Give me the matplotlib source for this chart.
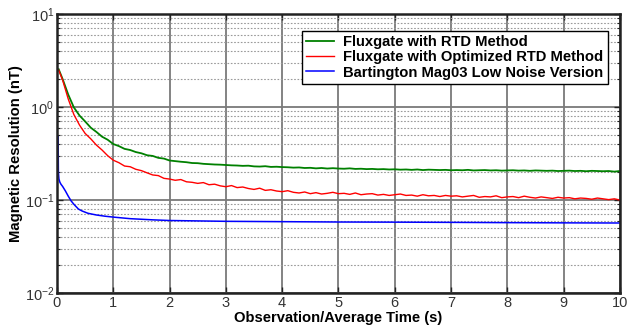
import numpy as np
import matplotlib
matplotlib.use("Agg")
import matplotlib.pyplot as plt
from matplotlib.ticker import LogLocator, FixedLocator, NullFormatter, FuncFormatter

plt.rcParams["font.family"] = ["Liberation Sans", "DejaVu Sans"]
plt.rcParams["mathtext.fontset"] = "custom"
plt.rcParams["mathtext.rm"] = "Liberation Sans"
plt.rcParams["mathtext.default"] = "regular"

# time axis shared by the two fluxgate curves (s)
t_flux = [0.03] + [round(0.1 * k, 1) for k in range(1, 101)]

green = [
    2.55, 2.0, 1.36, 0.99, 0.81, 0.70, 0.60, 0.54, 0.48, 0.445, 0.40,
    0.38, 0.355, 0.345, 0.328, 0.318, 0.303, 0.298, 0.284, 0.279, 0.266,
    0.262, 0.258, 0.255, 0.250, 0.249, 0.245, 0.243, 0.241, 0.240, 0.238,
    0.236, 0.235, 0.233, 0.234, 0.230, 0.229, 0.231, 0.227, 0.228, 0.226,
    0.225, 0.223, 0.224, 0.221, 0.222, 0.219, 0.221, 0.218, 0.220, 0.218,
    0.217, 0.219, 0.216, 0.217, 0.215, 0.216, 0.214, 0.215, 0.213, 0.214,
    0.212, 0.213, 0.211, 0.213, 0.210, 0.212, 0.211, 0.210, 0.211, 0.209,
    0.210, 0.209, 0.211, 0.208, 0.209, 0.210, 0.208, 0.209, 0.207, 0.208,
    0.209, 0.207, 0.208, 0.206, 0.208, 0.207, 0.206, 0.207, 0.205, 0.206,
    0.207, 0.205, 0.206, 0.204, 0.206, 0.205, 0.204, 0.205, 0.202, 0.205,
]

red = [
    2.5, 1.95, 1.22, 0.83, 0.64, 0.52, 0.455, 0.39, 0.345, 0.30, 0.268,
    0.252, 0.232, 0.228, 0.214, 0.207, 0.196, 0.186, 0.183, 0.171, 0.168,
    0.163, 0.166, 0.157, 0.155, 0.151, 0.154, 0.146, 0.148, 0.142, 0.139,
    0.143, 0.136, 0.138, 0.133, 0.130, 0.134, 0.127, 0.129, 0.125, 0.123,
    0.126, 0.121, 0.119, 0.122, 0.117, 0.120, 0.116, 0.118, 0.121, 0.117,
    0.118, 0.115, 0.119, 0.114, 0.116, 0.117, 0.113, 0.115, 0.112, 0.114,
    0.116, 0.112, 0.113, 0.110, 0.114, 0.111, 0.112, 0.109, 0.112, 0.110,
    0.111, 0.108, 0.110, 0.112, 0.107, 0.109, 0.108, 0.111, 0.106, 0.108,
    0.109, 0.106, 0.110, 0.107, 0.105, 0.108, 0.106, 0.104, 0.107, 0.105,
    0.106, 0.103, 0.105, 0.104, 0.102, 0.105, 0.103, 0.101, 0.103, 0.100,
]

t_blue = [0.02, 0.025, 0.035, 0.05, 0.07, 0.1, 0.15, 0.2, 0.25, 0.3, 0.38,
          0.45, 0.55, 0.7, 0.85, 1.0, 1.3, 1.7, 2.0, 2.5, 3.0, 4.0, 5.0,
          6.0, 7.0, 8.0, 9.0, 10.0]
blue = [0.48, 0.2, 0.168, 0.156, 0.148, 0.14, 0.125, 0.11, 0.098, 0.09,
        0.08, 0.076, 0.072, 0.069, 0.067, 0.0655, 0.063, 0.0612, 0.0602,
        0.0596, 0.059, 0.0585, 0.058, 0.0578, 0.0575, 0.0571, 0.0568, 0.0566]

labels = ["Fluxgate with RTD Method",
          "Fluxgate with Optimized RTD Method",
          "Bartington Mag03 Low Noise Version"]

fig = plt.figure(figsize=(6.29, 3.27), dpi=100)
ax = fig.add_axes([0.0906, 0.104, 0.895, 0.853])

ax.plot(t_flux, green, color="#008000", lw=1.3, label=labels[0])
ax.plot(t_flux, red, color="#ff0000", lw=1.0, label=labels[1])
ax.plot(t_blue, blue, color="#0000ff", lw=1.1, label=labels[2])

ax.set_yscale("log")
ax.set_xlim(0, 10)
ax.set_ylim(1e-2, 1e1)
ax.xaxis.set_major_locator(FixedLocator(range(11)))
ax.yaxis.set_major_locator(LogLocator(base=10, numticks=10))
ax.yaxis.set_minor_locator(LogLocator(base=10, subs=np.arange(2, 10), numticks=10))
ax.yaxis.set_minor_formatter(NullFormatter())
ax.yaxis.set_major_formatter(FuncFormatter(lambda v, p: r"$10^{%d}$" % round(np.log10(v))))

ax.grid(True, which="major", axis="both", color="#7a7a7a", lw=1.3, ls="-")
ax.grid(True, which="minor", axis="y", color="#9a9a9a", lw=0.8, ls=(0, (1.5, 1.5)))
ax.set_axisbelow(True)

ax.tick_params(which="both", direction="in", top=True, right=True,
               labelsize=10.5, color="#222222", labelcolor="#333333")
ax.tick_params(which="major", length=4, width=1, pad=2)
ax.tick_params(which="minor", length=2.5, width=0.8)
for s in ax.spines.values():
    s.set_linewidth(1.8)
    s.set_color("#222222")

ax.set_xlabel("Observation/Average Time (s)", fontsize=10.6, fontweight="bold", labelpad=1)
ax.set_ylabel("Magnetic Resolution (nT)", fontsize=10.7, fontweight="bold", labelpad=1)

leg = ax.legend(loc="upper right", bbox_to_anchor=(0.978, 0.94), fancybox=False,
                framealpha=1, edgecolor="black", handlelength=1.9, handletextpad=0.6,
                borderpad=0.3, labelspacing=0.08, borderaxespad=0,
                prop={"weight": "bold", "size": 10.6})
leg.get_frame().set_linewidth(1.0)

fig.savefig("out.png", dpi=100)
